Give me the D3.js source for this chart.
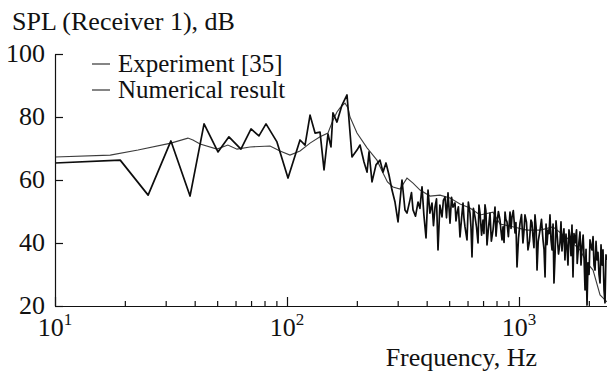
<!DOCTYPE html>
<html>
<head>
<meta charset="utf-8">
<script src="https://cdn.jsdelivr.net/npm/d3@7"></script>
<style>
  body { margin: 0; background: #fff; }
  svg text { font-family: "Liberation Serif", "Times New Roman", "DejaVu Serif", serif; }
</style>
</head>
<body>
<div id="chart"></div>
<script>
// [frequency Hz, SPL dB]
const experiment = [
  [10, 67.3], [17.3, 67.9], [22.8, 69.5], [31.6, 71.7], [37.4, 73.3], [39.3, 72.7], [42.2, 71.4],
  [49.9, 69.8], [55.6, 71.1], [60.9, 69.8], [69.3, 70.5], [84.5, 70.8], [93.3, 69.2], [103, 67.9],
  [113.8, 69.2], [125.7, 71.7], [138.8, 73.7], [150.2, 74.9], [157.8, 79.0], [164.2, 81.6],
  [169.2, 82.9], [177.8, 84.4], [183.2, 82.9], [186.9, 80.0], [200.3, 74.9], [221.3, 70.2],
  [244.2, 66.3], [259.3, 62.2], [271, 59.4], [286.3, 57.8], [306.9, 57.1], [329, 60.6],
  [349.3, 59.0], [374.5, 56.8], [413.4, 54.9], [456.6, 55.2], [504.2, 54.3], [556.8, 52.4],
  [614.9, 51.1], [679.2, 48.9], [772.7, 49.8], [828.2, 46.0], [949, 45.1], [1082, 44.1],
  [1232, 44.1], [1400, 45.1], [1610, 41.6], [1832, 37.8], [1964, 33.7], [2085, 31.4],
  [2235, 23.5], [2395, 21.3]
];

const numerical = [
  [10, 65.4], [19.1, 66.3], [25.2, 55.2], [31.6, 72.4], [38.2, 54.9], [43.9, 77.8], [50.4, 68.9],
  [56.2, 73.7], [63.3, 69.8], [70.0, 76.2], [75.7, 74.0], [81.2, 77.8], [90.5, 72.1], [101, 60.6],
  [113.8, 72.7], [119.6, 71.1], [125.7, 80.6], [132.1, 74.9], [138.8, 75.2], [144.4, 63.2],
  [150.2, 74.6], [154.7, 70.5], [157.8, 81.3], [164.2, 78.4], [172.6, 83.8], [181.4, 87.0],
  [190.6, 67.3], [200.3, 69.5], [206.4, 71.1], [214.7, 65.7], [221.3, 62.5], [225.7, 68.9],
  [232.5, 59.4], [241.9, 64.8], [251.7, 66.3], [259.3, 62.5], [267.1, 65.4], [275.2, 61.6],
  [283.5, 56.8], [292.1, 53.0], [301.0, 46.7], [313.1, 60.0], [322.5, 50.5], [329.0, 49.5],
  [339.0, 53.7], [349.3, 50.5], [367.1, 53.0], [381.9, 57.8], [397.4, 41.6], [405.4, 56.8],
  [421.7, 52.7], [434.5, 51.4], [447.6, 37.8], [465.7, 48.3], [479.8, 54.6], [494.3, 55.9],
  [504.2, 46.3], [519.3, 51.4], [529.8, 52.7], [540.4, 49.5], [556.8, 41.9], [573.6, 52.7],
  [585.1, 45.1], [596.8, 41.0], [614.9, 49.5], [627.2, 35.6], [646.2, 48.3], [665.8, 40.0],
  [679.2, 49.5], [699.6, 47.3], [713.6, 52.1], [727.9, 39.4], [749.9, 49.5], [772.7, 44.1],
  [788, 51.4], [803.9, 46.3], [828.2, 47.3], [844.9, 41.0], [853.3, 45.1], [870.6, 49.8],
  [887.7, 46.7], [914.6, 49.8], [933, 48.3], [961.3, 43.2], [980.4, 32.4], [1010, 46.3],
  [1040, 40.0], [1061, 48.9], [1093, 37.8], [1126, 47.3], [1149, 41.9], [1172, 48.9],
  [1196, 31.4], [1232, 44.1], [1269, 41.0], [1295, 29.2], [1308, 46.0], [1334, 44.1],
  [1360, 48.9], [1388, 37.8], [1415, 27.3], [1458, 43.2], [1502, 40.0], [1517, 46.7],
  [1547, 41.9], [1578, 34.6], [1610, 38.7], [1659, 41.9], [1692, 45.7], [1709, 29.2],
  [1744, 40.0], [1796, 36.8], [1832, 43.5], [1869, 38.7], [1926, 25.1], [1964, 20.3],
  [1984, 33.7], [2023, 41.0], [2064, 37.8], [2127, 31.4], [2169, 34.6], [2235, 27.3],
  [2257, 39.4], [2302, 37.8], [2325, 25.1], [2348, 21.0], [2371, 36.2], [2395, 34.6]
];

// extra samples of the dense part of the numerical curve (merged and sorted below)
const numericalDense = [
  [318, 55.0], [344, 56.0], [358, 48.5], [374, 51.0], [389, 49.0], [413, 49.5], [428, 45.5],
  [441, 54.0], [456, 52.0], [472, 53.5], [487, 48.0], [512, 54.5], [535, 47.0], [548, 51.5],
  [565, 47.5], [579, 48.0], [605, 53.0], [621, 45.0], [636, 51.0], [656, 45.0], [672, 52.0],
  [690, 42.5], [706, 43.0], [720, 50.2], [738, 44.5], [760, 40.6], [781, 47.8], [796, 42.2],
  [815, 50.0], [836, 44.0], [862, 40.2], [878, 47.5], [900, 42.0], [924, 44.6], [945, 50.3],
  [970, 46.5], [995, 41.5], [1025, 49.0], [1050, 43.5], [1077, 46.6], [1110, 40.6], [1137, 46.5],
  [1160, 38.5], [1185, 45.0], [1210, 40.5], [1250, 47.5], [1282, 38.0], [1320, 39.5], [1348, 43.0],
  [1374, 41.0], [1402, 46.0], [1430, 36.0], [1444, 47.0], [1480, 36.5], [1532, 37.5], [1562, 44.5],
  [1594, 42.8], [1626, 33.0], [1642, 44.2], [1675, 36.0], [1726, 43.0], [1770, 44.2], [1782, 33.5],
  [1814, 40.5], [1850, 33.0], [1890, 42.5], [1908, 35.0], [1945, 38.0], [2004, 30.0], [2043, 39.0],
  [2085, 42.0], [2105, 33.0], [2148, 40.5], [2190, 37.0], [2212, 30.0], [2280, 33.0]
];

const yTicks = [20, 40, 60, 80, 100];
const xMajor = [10, 100, 1000];
const xMinor = [20, 30, 40, 50, 60, 70, 80, 90, 200, 300, 400, 500, 600, 700, 800, 900, 2000];
const seriesNames = ["Experiment [35]", "Numerical result"];

const width = 607, height = 374;
const margin = {top: 54, right: 0, bottom: 68, left: 55};
const serif = "Liberation Serif, Times New Roman, DejaVu Serif, serif";

const svg = d3.select("#chart").append("svg")
    .attr("width", width)
    .attr("height", height);

const x = d3.scaleLog()
    .domain([10, 2395])
    .range([margin.left, width - margin.right]);

const y = d3.scaleLinear()
    .domain([20, 100])
    .range([height - margin.bottom, margin.top]);

svg.append("clipPath").attr("id", "plot")
  .append("rect")
    .attr("x", margin.left).attr("y", margin.top - 4)
    .attr("width", width - margin.left).attr("height", height - margin.bottom - margin.top + 5);

const line = d3.line()
    .x(d => x(d[0]))
    .y(d => y(d[1]));

const numAll = numerical.concat(numericalDense).sort((a, b) => a[0] - b[0]);

// curves
svg.append("path")
    .datum(experiment)
    .attr("clip-path", "url(#plot)")
    .attr("fill", "none")
    .attr("stroke", "#3c3c3c")
    .attr("stroke-width", 1.1)
    .attr("d", line);

svg.append("path")
    .datum(numAll)
    .attr("clip-path", "url(#plot)")
    .attr("fill", "none")
    .attr("stroke", "#0d0d0d")
    .attr("stroke-width", 1.7)
    .attr("stroke-linejoin", "round")
    .attr("d", line);

// y axis, ticks pointing inward
const yAxis = svg.append("g")
    .attr("transform", `translate(${margin.left},0)`)
    .call(d3.axisLeft(y).tickValues(yTicks).tickSize(-8).tickSizeOuter(0).tickPadding(10));

// x axis: major + minor ticks
svg.append("g")
    .attr("transform", `translate(0,${height - margin.bottom})`)
    .call(d3.axisBottom(x).tickValues(xMajor).tickSize(-9).tickSizeOuter(0).tickFormat(""));

svg.append("g")
    .attr("transform", `translate(0,${height - margin.bottom})`)
    .call(d3.axisBottom(x).tickValues(xMinor).tickSize(-5).tickSizeOuter(0).tickFormat(""))
    .select(".domain").remove();

svg.selectAll(".domain, .tick line")
    .attr("stroke", "#111")
    .attr("stroke-width", 1.2);

svg.selectAll("g").attr("font-family", serif);

yAxis.selectAll("text")
    .attr("font-family", serif)
    .attr("font-size", 26)
    .attr("dy", "0.3em")
    .attr("fill", "#111");

// 10^n labels
const xLab = svg.append("g").selectAll("text")
    .data(xMajor)
    .join("text")
    .attr("x", d => x(d))
    .attr("y", height - margin.bottom + 30)
    .attr("text-anchor", "middle")
    .attr("font-family", serif)
    .attr("font-size", 26)
    .attr("fill", "#111");
xLab.append("tspan").text("10");
xLab.append("tspan")
    .attr("dy", -11)
    .attr("font-size", 17)
    .text(d => Math.round(Math.log10(d)));

// axis titles
svg.append("text")
    .attr("x", 12).attr("y", 30)
    .attr("font-family", serif)
    .attr("font-size", 26).attr("fill", "#111")
    .text("SPL (Receiver 1), dB");

svg.append("text")
    .attr("x", 537).attr("y", 366)
    .attr("text-anchor", "end")
    .attr("font-family", serif)
    .attr("font-size", 26).attr("fill", "#111")
    .text("Frequency, Hz");

// legend
const legend = svg.append("g").selectAll("g")
    .data(seriesNames)
    .join("g")
    .attr("transform", (d, i) => `translate(92,${72 + i * 26})`);

legend.append("line")
    .attr("x1", 0).attr("x2", 18)
    .attr("y1", -8).attr("y2", -8)
    .attr("stroke", "#222")
    .attr("stroke-width", 1.1);

legend.append("text")
    .attr("x", 26)
    .attr("font-family", serif)
    .attr("font-size", 25)
    .attr("fill", "#111")
    .text(d => d);
</script>
</body>
</html>
